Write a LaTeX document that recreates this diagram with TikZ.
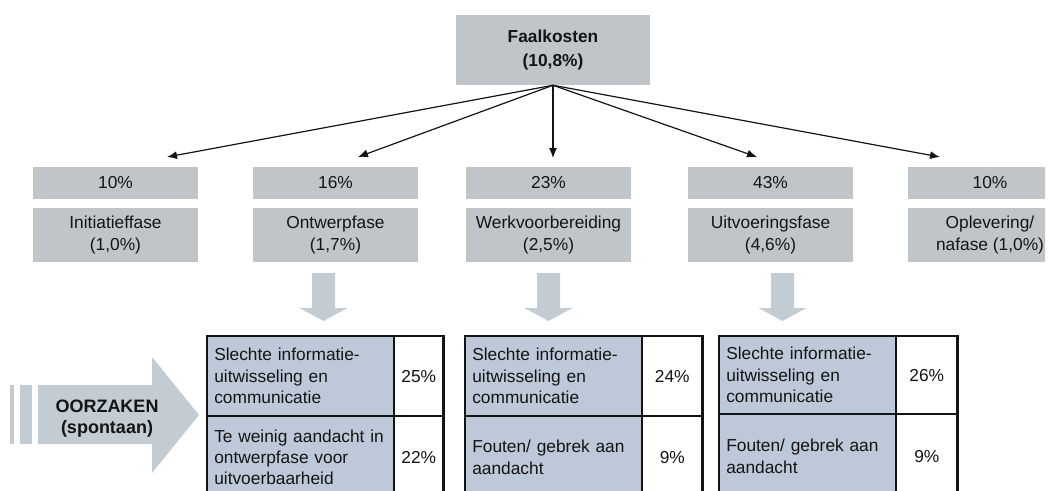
\documentclass[tikz,border=0pt]{standalone}
\usepackage{fontspec}
\setmainfont{Liberation Sans}
\usetikzlibrary{arrows.meta}

\definecolor{boxgray}{HTML}{C0C5C9}
\definecolor{arrowgray}{HTML}{C3CBD3}
\definecolor{cellblue}{HTML}{BDC9D8}
\definecolor{ink}{HTML}{141414}

\begin{document}
\begin{tikzpicture}[x=0.75pt,y=-0.75pt,
  sz/.style 2 args={minimum width=#1*0.75pt, minimum height=#2*0.75pt},
  greybox/.style={fill=boxgray, text=ink, inner sep=0pt, align=center,
    font=\fontsize{13}{17}\selectfont},
  link/.style={draw=ink, line width=0.9pt, -{Latex[length=7.5pt,width=6pt]}},
  causecell/.style={fill=cellblue, draw=ink, line width=0.9pt, anchor=north west,
    text=ink, align=left, inner xsep=5pt, inner ysep=0pt,
    font=\fontsize{13}{16}\selectfont},
  pctcell/.style={fill=white, draw=ink, line width=0.9pt, anchor=north west,
    text=ink, align=center, inner sep=0pt, font=\fontsize{13}{16}\selectfont},
  outerframe/.style={draw=ink, line width=2.2pt},
  pics/downblock/.style={code={
    \fill[arrowgray] (-11.5,0) -- (11.5,0) -- (11.5,35) -- (24,35) -- (0,48)
      -- (-24,35) -- (-11.5,35) -- cycle;}}
]
\useasboundingbox (0,0) rectangle (1053,490);
\clip (0,0) rectangle (1053,490);

% total failure costs
\node[greybox, sz={194}{70}, font=\fontsize{13}{18}\selectfont\bfseries] (top) at (553,50)
  {Faalkosten\\(10,8\%)};

% phases: share and cost
\node[greybox, sz={165}{32}] (p1) at (115.5,183) {10\%};
\node[greybox, sz={165}{54}] (n1) at (115.5,235) {Initiatieffase\\(1,0\%)};
\node[greybox, sz={165}{32}] (p2) at (335.5,183) {16\%};
\node[greybox, sz={165}{54}] (n2) at (335.5,235) {Ontwerpfase\\(1,7\%)};
\node[greybox, sz={165}{32}] (p3) at (548.5,183) {23\%};
\node[greybox, sz={165}{54}] (n3) at (548.5,235) {Werkvoorbereiding\\(2,5\%)};
\node[greybox, sz={165}{32}] (p4) at (770.5,183) {43\%};
\node[greybox, sz={165}{54}] (n4) at (770.5,235) {Uitvoeringsfase\\(4,6\%)};
\begin{scope}
  \clip (0,0) rectangle (1045,490);
  \node[greybox, sz={165}{32}] (p5) at (990,183) {10\%};
  \node[greybox, sz={165}{54}] (n5) at (990,235) {Oplevering/\\nafase (1,0\%)};
\end{scope}

% arrow ends above the phase boxes
\coordinate (a1) at (167,157);
\coordinate (a2) at (358,157);
\coordinate (a3) at (553,158);
\coordinate (a4) at (757,157);
\coordinate (a5) at (940,157);
\foreach \t in {a1,a2,a3,a4,a5}
  \draw[link] (top.south) -- (\t);

% block arrows down to the causes
\pic at (323.5,273) {downblock};
\pic at (548.5,273) {downblock};
\pic at (782.5,273) {downblock};

% causes arrow
\fill[arrowgray] (10,385) rectangle (14,444);
\fill[arrowgray] (20,385) rectangle (32,444);
\fill[arrowgray] (38,385) -- (152,385) -- (152,357) -- (199,415) -- (152,473)
  -- (152,444) -- (38,444) -- cycle;
\node[text=ink, align=center, font=\fontsize{13.5}{16}\selectfont\bfseries] (oorz) at (107,418.5)
  {OORZAKEN\\(spontaan)};

% causes table: design phase
\node[causecell, sz={186}{79}, text width=129.5pt] (t1a) at (207,336)
  {Slechte informatie-\\uitwisseling en\\communicatie};
\node[pctcell, sz={48}{79}] (t1b) at (t1a.north east) {25\%};
\node[causecell, sz={186}{81}, text width=129.5pt] (t1c) at (t1a.south west)
  {Te weinig aandacht in\\ontwerpfase voor\\uitvoerbaarheid};
\node[pctcell, sz={48}{81}] (t1d) at (t1c.north east) {22\%};
\draw[outerframe] (t1a.north west) rectangle (t1d.south east);

% causes table: work preparation
\node[causecell, sz={176}{79}, text width=122pt] (t2a) at (465,336)
  {Slechte informatie-\\uitwisseling en\\communicatie};
\node[pctcell, sz={59}{79}] (t2b) at (t2a.north east) {24\%};
\node[causecell, sz={176}{81}, text width=122pt] (t2c) at (t2a.south west)
  {Fouten/ gebrek aan\\aandacht};
\node[pctcell, sz={59}{81}] (t2d) at (t2c.north east) {9\%};
\draw[outerframe] (t2a.north west) rectangle (t2d.south east);

% causes table: execution phase
\node[causecell, sz={176}{77}, text width=122pt] (t3a) at (719,336)
  {Slechte informatie-\\uitwisseling en\\communicatie};
\node[pctcell, sz={60}{77}] (t3b) at (t3a.north east) {26\%};
\node[causecell, sz={176}{83}, text width=122pt] (t3c) at (t3a.south west)
  {Fouten/ gebrek aan\\aandacht};
\node[pctcell, sz={60}{83}] (t3d) at (t3c.north east) {9\%};
\draw[outerframe] (t3a.north west) rectangle (t3d.south east);
\end{tikzpicture}
\end{document}
